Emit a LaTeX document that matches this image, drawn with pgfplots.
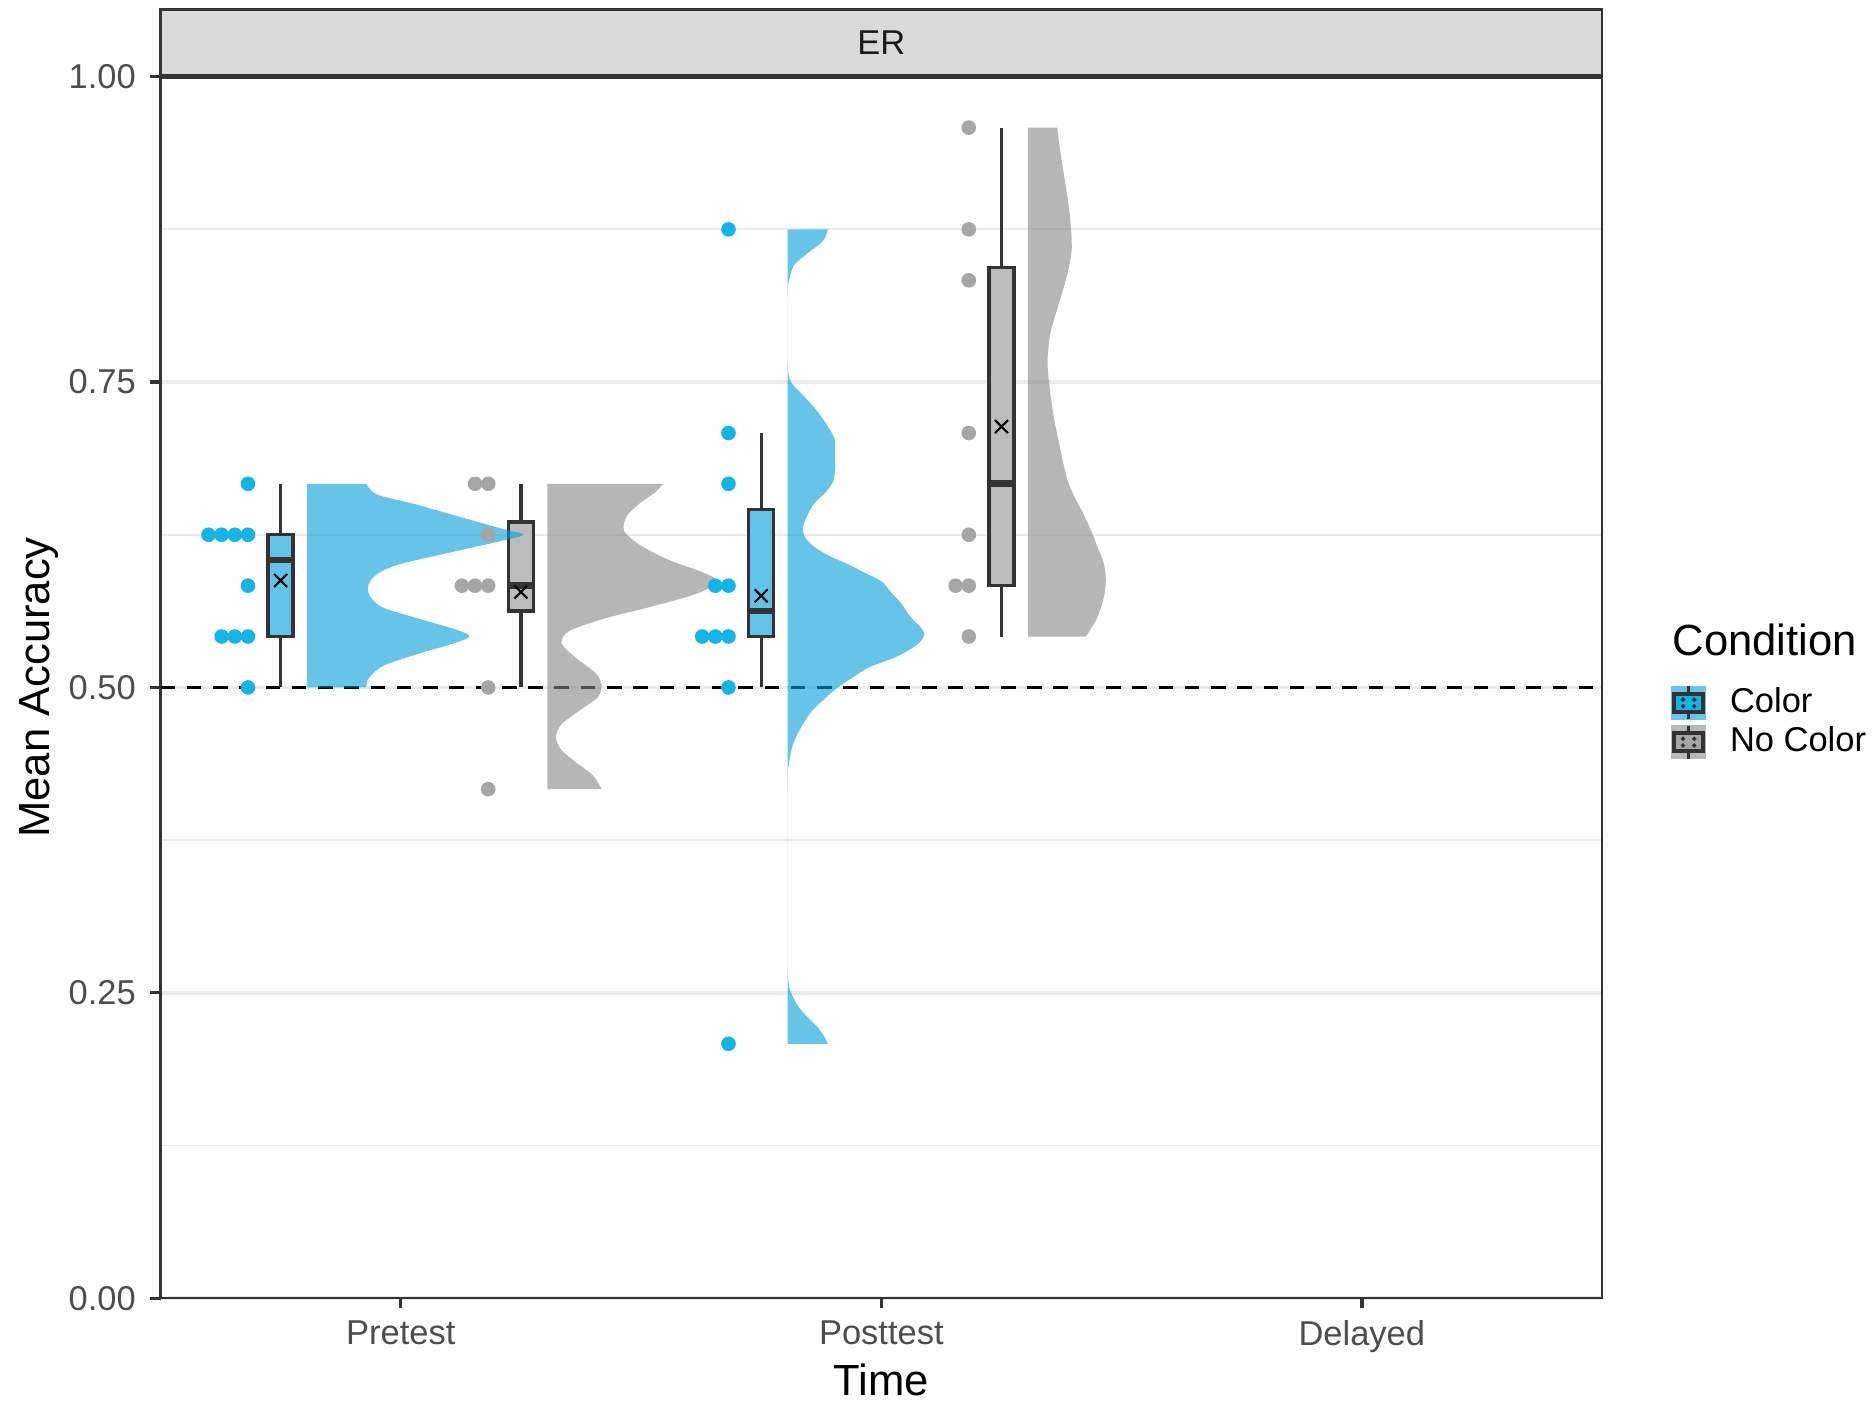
\documentclass[border=0pt]{standalone}
\usepackage{fontspec}
\setmainfont{Liberation Sans}
\usepackage{pgfplots}
\pgfplotsset{compat=1.18}
\usepgfplotslibrary{statistics}
\definecolor{dotblue}{HTML}{14B4E6}
\definecolor{violinblue}{HTML}{009DD9}
\definecolor{boxblue}{HTML}{62C2E8}
\definecolor{dotgray}{HTML}{A6A6A6}
\definecolor{violingray}{HTML}{868686}
\definecolor{boxgray}{HTML}{BBBBBB}
\definecolor{legblue}{HTML}{68C4E8}
\definecolor{leggray}{HTML}{B7B7B7}
\definecolor{gray20}{HTML}{333333}
\definecolor{gray10}{HTML}{1A1A1A}
\definecolor{gridgray}{HTML}{EBEBEB}
\definecolor{stripgray}{HTML}{D9D9D9}
\definecolor{ticktext}{HTML}{4D4D4D}
\begin{document}
\begin{tikzpicture}
\begin{axis}[name=ax, at={(0,0)}, anchor=south west,
  scale only axis, width=345.8bp, height=293bp,
  xmin=-0.5, xmax=2.5, ymin=0, ymax=1,
  xtick={0,1,2}, xticklabels={Pretest,Posttest,Delayed},
  ytick={0,0.25,0.5,0.75,1}, yticklabels={0.00,0.25,0.50,0.75,1.00},
  minor ytick={0.125,0.375,0.625,0.875},
  ymajorgrids, yminorgrids,
  major grid style={gridgray, line width=0.9bp},
  minor grid style={gridgray, line width=0.45bp},
  tick align=outside, xtick pos=bottom, ytick pos=left,
  major tick length=2.4bp, minor tick length=0pt,
  tick style={gray20, line width=0.8bp},
  axis line style={gray20, line width=0.6bp},
  ticklabel style={font=\fontsize{8.3}{10}\selectfont, text=ticktext},
  xticklabel style={yshift=0.6bp},
  xlabel={Time}, ylabel={Mean Accuracy},
  label style={font=\fontsize{10.5}{12}\selectfont, text=black},
  xlabel style={at={(axis description cs:0.5,-0.0666)}, anchor=center},
  ylabel style={at={(axis description cs:-0.0842,0.5)}, anchor=center},
  legend style={at={(axis description cs:1.048,0.502)}, anchor=north west,
    draw=none, fill=none, inner sep=0pt, outer sep=0pt, row sep=0.8bp,
    font=\fontsize{8.3}{10}\selectfont,
    nodes={inner ysep=0pt, inner xsep=5.8bp, anchor=west}},
  legend cell align=left,
  boxplot/draw direction=y,
  boxplot/every median/.style={line width=1.6bp},
]
% legend
\addlegendimage{legend image code/.code={
  \fill[legblue] (0bp,-3.95bp) rectangle (7.9bp,3.95bp);
  \draw[gray20,line width=0.7bp] (3.95bp,-3.95bp)--(3.95bp,3.95bp);
  \draw[gray20,line width=0.9bp,fill=dotblue] (0.45bp,-2.2bp) rectangle (7.45bp,2.2bp);
  \fill[gray20] (2.6bp,0.8bp) circle[radius=0.3bp] (5.3bp,0.8bp) circle[radius=0.3bp] (2.6bp,-0.8bp) circle[radius=0.3bp] (5.3bp,-0.8bp) circle[radius=0.3bp];
}}
\addlegendentry{Color}
\addlegendimage{legend image code/.code={
  \fill[leggray] (0bp,-3.95bp) rectangle (7.9bp,3.95bp);
  \draw[gray20,line width=0.7bp] (3.95bp,-3.95bp)--(3.95bp,3.95bp);
  \draw[gray20,line width=0.9bp,fill=dotgray] (0.45bp,-2.2bp) rectangle (7.45bp,2.2bp);
  \fill[gray20] (2.6bp,0.8bp) circle[radius=0.3bp] (5.3bp,0.8bp) circle[radius=0.3bp] (2.6bp,-0.8bp) circle[radius=0.3bp] (5.3bp,-0.8bp) circle[radius=0.3bp];
}}
\addlegendentry{No Color}

% chance line
\addplot[black, line width=0.8bp, dash pattern=on 3.5bp off 2.8bp, forget plot] coordinates {(-0.5,0.5) (2.5,0.5)};

% dots
\addplot[only marks, mark=*, mark size=1.55bp, dotblue, forget plot] coordinates {
(-0.318,0.6667)
(-0.318,0.625)(-0.3454,0.625)(-0.3728,0.625)(-0.4002,0.625)
(-0.318,0.5833)
(-0.318,0.5417)(-0.3454,0.5417)(-0.3728,0.5417)
(-0.318,0.5)
(0.682,0.875)
(0.682,0.7083)
(0.682,0.6667)
(0.682,0.5833)(0.6546,0.5833)
(0.682,0.5417)(0.6546,0.5417)(0.6272,0.5417)
(0.682,0.5)
(0.682,0.2083)
};
\addplot[only marks, mark=*, mark size=1.55bp, dotgray, forget plot] coordinates {
(0.182,0.6667)(0.1546,0.6667)
(0.182,0.625)
(0.182,0.5833)(0.1546,0.5833)(0.1272,0.5833)
(0.182,0.5)
(0.182,0.4167)
(1.182,0.9583)(1.182,0.875)(1.182,0.8333)(1.182,0.7083)(1.182,0.625)
(1.182,0.5833)(1.1546,0.5833)(1.182,0.5417)
};

% boxplots
\addplot[boxplot prepared={draw position=-0.25, lower whisker=0.5, lower quartile=0.5417, median=0.6042, upper quartile=0.625, upper whisker=0.6667, box extend=0.052, whisker extend=0}, fill=boxblue, draw=gray20, line width=0.8bp, forget plot] coordinates {};
\addplot[boxplot prepared={draw position=0.25, lower whisker=0.5, lower quartile=0.5625, median=0.5833, upper quartile=0.6354, upper whisker=0.6667, box extend=0.052, whisker extend=0}, fill=boxgray, draw=gray20, line width=0.8bp, forget plot] coordinates {};
\addplot[boxplot prepared={draw position=0.75, lower whisker=0.5, lower quartile=0.5417, median=0.5625, upper quartile=0.6458, upper whisker=0.7083, box extend=0.052, whisker extend=0}, fill=boxblue, draw=gray20, line width=0.8bp, forget plot] coordinates {};
\addplot[boxplot prepared={draw position=1.25, lower whisker=0.5417, lower quartile=0.5833, median=0.6667, upper quartile=0.8438, upper whisker=0.9583, box extend=0.052, whisker extend=0}, fill=boxgray, draw=gray20, line width=0.8bp, forget plot] coordinates {};

% violins: Pretest Color
\addplot[fill=violinblue, fill opacity=0.6, draw=none, smooth, forget plot] coordinates {
(-0.072,0.5)(-0.066,0.508)(-0.035,0.518)(0.040,0.528)(0.110,0.536)(0.143,0.542)(0.110,0.548)(0.040,0.556)(-0.040,0.566)(-0.068,0.578)(-0.058,0.590)(-0.010,0.600)(0.120,0.612)(0.210,0.620)(0.255,0.625)(0.210,0.630)(0.120,0.640)(0.030,0.650)(-0.050,0.658)(-0.072,0.6667)}
 -- (axis cs:-0.195,0.6667) -- (axis cs:-0.195,0.5) -- cycle;
% Pretest No Color
\addplot[fill=violingray, fill opacity=0.6, draw=none, smooth, forget plot] coordinates {
(0.418,0.4167)(0.400,0.428)(0.360,0.440)(0.332,0.450)(0.323,0.460)(0.335,0.470)(0.375,0.482)(0.410,0.492)(0.418,0.502)(0.405,0.512)(0.365,0.524)(0.335,0.536)(0.350,0.546)(0.420,0.556)(0.520,0.566)(0.610,0.576)(0.660,0.586)(0.630,0.594)(0.560,0.604)(0.500,0.616)(0.465,0.628)(0.470,0.640)(0.495,0.650)(0.530,0.660)(0.546,0.6667)}
 -- (axis cs:0.305,0.6667) -- (axis cs:0.305,0.4167) -- cycle;
% Posttest Color
\addplot[fill=violinblue, fill opacity=0.6, draw=none, smooth, forget plot] coordinates {
(0.889,0.2083)(0.880,0.215)(0.867,0.222)(0.8325,0.236)(0.812,0.250)(0.806,0.262)(0.805,0.278)(0.805,0.300)(0.805,0.400)(0.806,0.431)(0.808,0.438)(0.813,0.449)(0.822,0.459)(0.837,0.470)(0.854,0.480)(0.880,0.490)(0.909,0.500)(0.940,0.508)(0.972,0.516)(1.025,0.524)(1.055,0.530)(1.080,0.537)(1.0896,0.544)(1.080,0.550)(1.060,0.558)(1.041,0.569)(1.020,0.578)(1.000,0.587)(0.965,0.594)(0.930,0.601)(0.890,0.608)(0.861,0.615)(0.843,0.622)(0.8366,0.630)(0.845,0.640)(0.861,0.651)(0.885,0.660)(0.900,0.669)(0.904,0.678)(0.904,0.686)(0.904,0.695)(0.9025,0.704)(0.885,0.716)(0.861,0.729)(0.835,0.740)(0.812,0.750)(0.806,0.760)(0.805,0.779)(0.805,0.807)(0.806,0.828)(0.811,0.838)(0.819,0.846)(0.845,0.855)(0.875,0.864)(0.885,0.870)(0.889,0.875)}
 -- (axis cs:0.805,0.875) -- (axis cs:0.805,0.2083) -- cycle;
% Posttest No Color
\addplot[fill=violingray, fill opacity=0.6, draw=none, smooth, forget plot] coordinates {
(1.426,0.5417)(1.448,0.556)(1.460,0.569)(1.466,0.580)(1.467,0.591)(1.462,0.603)(1.450,0.615)(1.435,0.630)(1.418,0.644)(1.402,0.656)(1.388,0.669)(1.378,0.685)(1.370,0.700)(1.362,0.715)(1.356,0.729)(1.349,0.750)(1.346,0.768)(1.352,0.790)(1.367,0.811)(1.385,0.835)(1.396,0.857)(1.394,0.880)(1.388,0.900)(1.380,0.920)(1.372,0.940)(1.366,0.9583)}
 -- (axis cs:1.305,0.9583) -- (axis cs:1.305,0.5417) -- cycle;

% means
\addplot[only marks, mark=x, mark size=2.2bp, black, line width=0.5bp, forget plot] coordinates {
(-0.25,0.5875)(0.25,0.5781)(0.75,0.575)(1.25,0.7135)};
\end{axis}
\draw[gray20, line width=0.6bp, fill=stripgray] (ax.north west) rectangle ([yshift=16.1bp]ax.north east);
\node[font=\fontsize{8.3}{10}\selectfont, text=gray10] at ([yshift=8.05bp]ax.north) {ER};
\draw[gray20, line width=1.3bp] (ax.north west) -- (ax.north east);
\node[anchor=west, font=\fontsize{10.5}{12}\selectfont, inner sep=0pt] at ([xshift=16.7bp,yshift=157.9bp]ax.south east) {Condition};
\pgfresetboundingbox
\path (-38.5bp,-24.6bp) rectangle (411.5bp,311.4bp);
\end{tikzpicture}
\end{document}
